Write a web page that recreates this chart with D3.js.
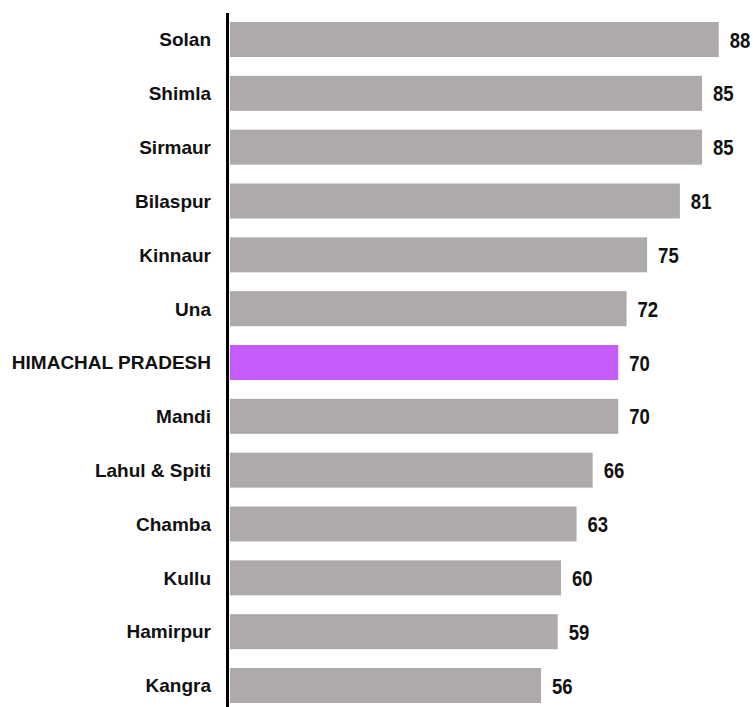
<!DOCTYPE html>
<html>
<head>
<meta charset="utf-8">
<script src="https://cdn.jsdelivr.net/npm/d3@7"></script>
<style>
  body { margin: 0; background: #fff; }
</style>
</head>
<body>
<div id="chart"></div>
<script>
const districts = ["Solan", "Shimla", "Sirmaur", "Bilaspur", "Kinnaur", "Una", "HIMACHAL PRADESH",
    "Mandi", "Lahul & Spiti", "Chamba", "Kullu", "Hamirpur", "Kangra"];
// bar lengths as drawn in the original (labels are rounded)
const barValues = [88, 85, 85, 81, 75.1, 71.4, 69.9, 69.9, 65.3, 62.4, 59.6, 59, 56];
const labels = [88, 85, 85, 81, 75, 72, 70, 70, 66, 63, 60, 59, 56];
const highlight = "HIMACHAL PRADESH";

const width = 753;
const height = 707;

const data = districts.map((d, i) => ({ name: d, value: barValues[i], label: labels[i] }));

const svg = d3.select("#chart").append("svg")
    .attr("width", width)
    .attr("height", height);

const x = d3.scaleLinear()
    .domain([0, 100])
    .range([230, 230 + 555.4]);

const y = d3.scaleBand()
    .domain(districts)
    .range([12.6, 712.4])
    .paddingInner(0.35)
    .paddingOuter(0.175);

svg.selectAll("rect.bar")
    .data(data)
    .join("rect")
    .attr("class", "bar")
    .attr("x", x(0))
    .attr("y", d => y(d.name))
    .attr("width", d => x(d.value) - x(0))
    .attr("height", y.bandwidth())
    .attr("fill", d => d.name === highlight ? "#c55bfb" : "#aeaaa9");

// axis line
svg.append("line")
    .attr("x1", 227.5).attr("x2", 227.5)
    .attr("y1", 13).attr("y2", height)
    .attr("stroke", "#000")
    .attr("stroke-width", 3);

svg.selectAll("text.cat")
    .data(data)
    .join("text")
    .attr("class", "cat")
    .attr("x", 211)
    .attr("y", d => y(d.name) + y.bandwidth() / 2)
    .attr("dy", "0.36em")
    .attr("text-anchor", "end")
    .style("font-family", "'Liberation Sans', Arial, sans-serif")
    .style("font-weight", "bold")
    .style("font-size", "19px")
    .attr("fill", "#111")
    .text(d => d.name);

// value labels are condensed in the original
svg.selectAll("text.val")
    .data(data)
    .join("text")
    .attr("class", "val")
    .attr("x", d => x(d.value) + 11)
    .attr("y", d => y(d.name) + y.bandwidth() / 2)
    .attr("dy", "0.37em")
    .attr("textLength", d => String(d.label).length * 10.3)
    .attr("lengthAdjust", "spacingAndGlyphs")
    .style("font-family", "'Liberation Sans', Arial, sans-serif")
    .style("font-weight", "bold")
    .style("font-size", "22px")
    .attr("fill", "#111")
    .text(d => d.label);
</script>
</body>
</html>
